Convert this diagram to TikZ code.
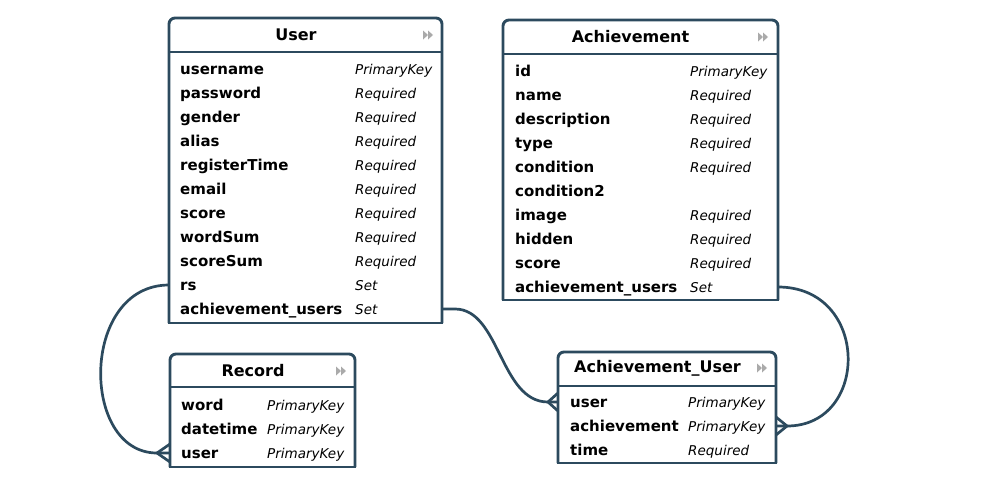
\documentclass[tikz,border=0pt]{standalone}
\usepackage{fontspec}
\setmainfont{DejaVu Sans}
\usetikzlibrary{calc}
\definecolor{frm}{RGB}{44,74,94}
\definecolor{icn}{RGB}{170,170,170}
\tikzset{
  tbl/.style={draw=none, inner sep=0pt, outer sep=0pt, anchor=north west},
  frame/.style={draw=frm, line width=2.9pt},
  conn/.style={draw=frm, line width=2.7pt, line join=round},
  ttl/.style={font=\fontsize{16}{19}\selectfont\bfseries, inner sep=0pt},
  fname/.style={font=\fontsize{15}{18}\selectfont\bfseries, anchor=base west, inner sep=0pt, text height=13pt, text depth=3pt},
  ftype/.style={font=\fontsize{13.5}{16}\selectfont\itshape, anchor=base west, inner sep=0pt, text height=13pt, text depth=3pt},
  dbl/.pic={\fill[icn] (0,-4.5) -- (5,0) -- (0,4.5) -- cycle;
            \fill[icn] (5,-4.5) -- (10,0) -- (5,4.5) -- cycle;}
}
\newcommand\tblframe[2]{%
  \draw[frame, rounded corners=6pt] (#1.south west) -- (#1.north west) -- (#1.north east) -- (#1.south east);
  \draw[frame, line cap=rect] (#1.south west) -- (#1.south east);
  \draw[frame] ([yshift=-#2pt]#1.north west) -- ([yshift=-#2pt]#1.north east);
}
\begin{document}
\begin{tikzpicture}[x=1pt,y=-1pt]
\fill[white] (0,0) rectangle (982,490);
\useasboundingbox (0,0) rectangle (982,490);

% ---------- User ----------
\node[tbl, minimum width=273pt, minimum height=305pt] (user) at (169,18) {};
\tblframe{user}{34}
\node[ttl] (user-t) at (296,35) {User};
\pic at (423,35) {dbl};
\foreach \n/\t [count=\i] in {username/PrimaryKey, password/Required, gender/Required, alias/Required, registerTime/Required, email/Required, score/Required, wordSum/Required, scoreSum/Required, rs/Set, achievement\_users/Set}{
  \node[fname] (u-\i) at (180,{50+24*\i}) {\n};
  \node[ftype] (ut-\i) at (355,{50+24*\i}) {\t};
}

% ---------- Achievement ----------
\node[tbl, minimum width=275pt, minimum height=280pt] (ach) at (503,20) {};
\tblframe{ach}{34}
\node[ttl] (ach-t) at (630.5,37) {Achievement};
\pic at (758,37) {dbl};
\foreach \n/\t [count=\i] in {id/PrimaryKey, name/Required, description/Required, type/Required, condition/Required, condition2/, image/Required, hidden/Required, score/Required, achievement\_users/Set}{
  \node[fname] (a-\i) at (515,{52+24*\i}) {\n};
  \node[ftype] (at-\i) at (690,{52+24*\i}) {\t};
}

% ---------- Record ----------
\node[tbl, minimum width=185pt, minimum height=113pt] (record) at (170,354) {};
\tblframe{record}{33}
\node[ttl] (record-t) at (253,371) {Record};
\pic at (336,371) {dbl};
\foreach \n/\t [count=\i] in {word/PrimaryKey, datetime/PrimaryKey, user/PrimaryKey}{
  \node[fname] (r-\i) at (181,{386+24*\i}) {\n};
  \node[ftype] (rt-\i) at (267,{386+24*\i}) {\t};
}

% ---------- Achievement_User ----------
\node[tbl, minimum width=218pt, minimum height=111pt] (au) at (558,352) {};
\tblframe{au}{34}
\node[ttl] (au-t) at (657.5,368) {Achievement\_User};
\pic at (757,368) {dbl};
\foreach \n/\t [count=\i] in {user/PrimaryKey, achievement/PrimaryKey, time/Required}{
  \node[fname] (au-\i) at (570,{383+24*\i}) {\n};
  \node[ftype] (aut-\i) at (688,{383+24*\i}) {\t};
}

% ---------- Connectors ----------
% User.rs -> Record.user
\coordinate (f1) at ($(record.west |- r-3)+(-13,0)$);
\draw[conn] (user.west |- u-10) .. controls ($(user.west |- u-10)+(-89,0)$) and ($(f1)+(-77,0)$) .. (f1) -- (record.west |- r-3);
\draw[conn] ($(record.west |- r-3)+(0,-9)$) -- (f1) -- ($(record.west |- r-3)+(0,9)$);

% User.achievement_users -> Achievement_User.user
\coordinate (s2) at ($(user.east |- u-11)+(13,0)$);
\coordinate (f2) at ($(au.west |- au-1)+(-10,0)$);
\draw[conn] (user.east |- u-11) -- (s2) .. controls ($(s2)+(45,0)$) and ($(f2)+(-48,0)$) .. (f2) -- (au.west |- au-1);
\draw[conn] ($(au.west |- au-1)+(0,-9)$) -- (f2) -- ($(au.west |- au-1)+(0,9)$);

% Achievement.achievement_users -> Achievement_User.achievement
\coordinate (f3) at ($(au.east |- au-2)+(11,0)$);
\draw[conn] (ach.east |- a-10) .. controls ($(ach.east |- a-10)+(92,0)$) and ($(f3)+(83,0)$) .. (f3) -- (au.east |- au-2);
\draw[conn] ($(au.east |- au-2)+(0,-9)$) -- (f3) -- ($(au.east |- au-2)+(0,9)$);
\end{tikzpicture}
\end{document}
